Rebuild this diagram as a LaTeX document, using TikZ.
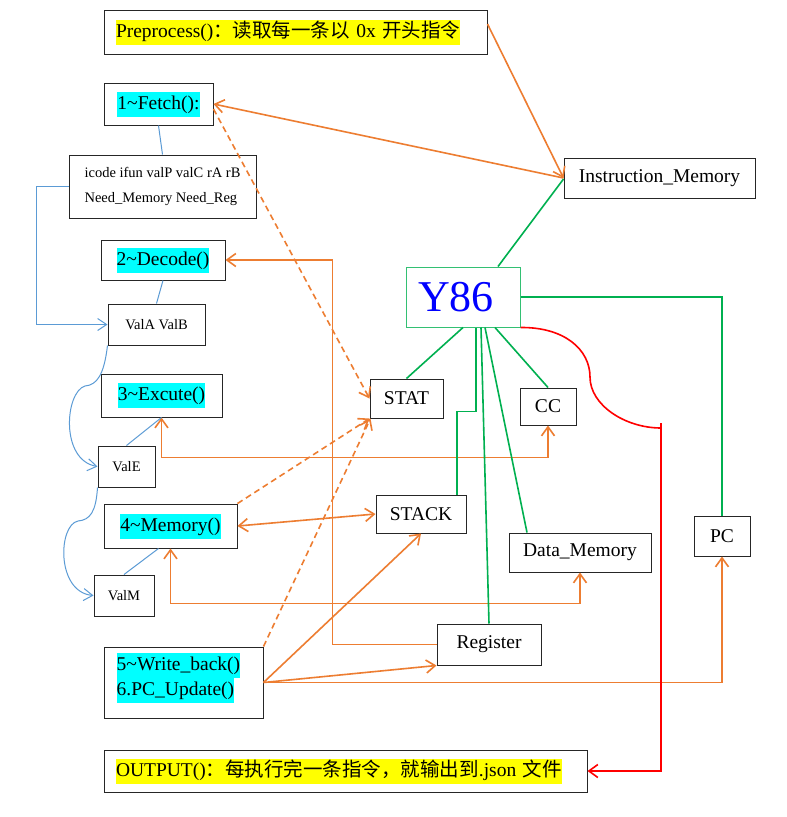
\documentclass[tikz,border=0pt]{standalone}
\usepackage{fontspec}
\setmainfont{Liberation Serif}
\newfontfamily\cjk{Noto Sans CJK SC}
\usetikzlibrary{arrows.meta,calc}
\definecolor{orng}{HTML}{ED7D31}
\definecolor{blu}{HTML}{5B9BD5}
\definecolor{grn}{HTML}{00B050}
\definecolor{hlcyan}{HTML}{00FFFF}
\definecolor{hlyel}{HTML}{FFFF00}
\newcommand\lab{\fontsize{19.5}{25}\selectfont}
\newcommand\smlab{\fontsize{14.5}{25}\selectfont}
\newcommand\hlt[2]{{\setlength{\fboxsep}{0pt}\colorbox{#1}{\strut #2}}}
\begin{document}
\begin{tikzpicture}[x=1pt,y=-1pt,
  box/.style={draw=black!85, line width=1pt, inner sep=0pt, font=\lab, text=black},
  oline/.style={draw=orng, line width=1.6pt},
  oarr/.style={oline, -{Straight Barb[length=9pt,width=13pt]}},
  odbl/.style={oline, {Straight Barb[length=9pt,width=13pt]}-{Straight Barb[length=9pt,width=13pt]}},
  odash/.style={oarr, dash pattern=on 6pt off 4pt},
  bline/.style={draw=blu, line width=1pt},
  barr/.style={bline, -{Straight Barb[length=9pt,width=12pt]}},
  gline/.style={draw=grn, line width=1.6pt},
  rline/.style={draw=red, line width=1.6pt}]
\fill[white] (0,0) rectangle (787,817);
\useasboundingbox (0,0) rectangle (787,817);

% boxes
\node[box, minimum width=383pt, minimum height=44pt, align=left, text width=359pt, inner xsep=12pt] (pre) at (295.5,32)
  {\hlt{hlyel}{Preprocess(){\cjk ：读取每一条以} 0x {\cjk 开头指令}}};
\node[box, minimum width=109pt, minimum height=42pt] (fetch) at (158.5,104) {\hlt{hlcyan}{1\textasciitilde Fetch():}};
\node[box, minimum width=187pt, minimum height=63pt, align=left, font=\smlab] (icode) at (162.5,186.5)
  {icode ifun valP valC rA rB\\Need\_Memory Need\_Reg};
\node[box, minimum width=124pt, minimum height=40pt] (decode) at (163,260) {\hlt{hlcyan}{2\textasciitilde Decode()}};
\node[box, minimum width=97pt, minimum height=41pt, font=\smlab] (vab) at (156.5,324.5) {ValA ValB};
\node[box, minimum width=121pt, minimum height=43pt] (exe) at (161.5,395.5) {\hlt{hlcyan}{3\textasciitilde Excute()}};
\node[box, minimum width=57pt, minimum height=41pt, font=\smlab] (vale) at (126.5,466.5) {ValE};
\node[box, minimum width=133pt, minimum height=44pt] (mem) at (170.5,526) {\hlt{hlcyan}{4\textasciitilde Memory()}};
\node[box, minimum width=60pt, minimum height=41pt, font=\smlab] (valm) at (124,595.5) {ValM};
\node[box, minimum width=159pt, minimum height=71pt] (wb) at (183.5,682.5) {};
\node[anchor=north west, inner sep=0pt, align=left, font=\lab] (wbtext) at ([xshift=13pt,yshift=-6pt]wb.north west)
  {\hlt{hlcyan}{5\textasciitilde Write\_back()}\\\hlt{hlcyan}{6.PC\_Update()}};
\node[box, minimum width=483pt, minimum height=42pt, align=left, text width=459pt, inner xsep=12pt] (out) at (345.5,771)
  {\hlt{hlyel}{OUTPUT(){\cjk ：每执行完一条指令，就输出到}.json {\cjk 文件}}};

\node[box, minimum width=191pt, minimum height=40pt] (im) at (659.5,178) {Instruction\_Memory};
\node[box, draw=grn!80, line width=1pt, minimum width=114pt, minimum height=60pt, font=\fontsize{44}{50}\selectfont, text=blue] (y86) at (463,297) {Y86\hspace*{14pt}};
\node[box, minimum width=73pt, minimum height=39pt] (stat) at (406.5,398.5) {STAT};
\node[box, minimum width=56pt, minimum height=37pt] (cc) at (548,406.5) {CC};
\node[box, minimum width=90pt, minimum height=38pt] (stack) at (421,514) {STACK};
\node[box, minimum width=142pt, minimum height=39pt] (dm) at (580,552.5) {Data\_Memory};
\node[box, minimum width=56pt, minimum height=40pt] (pc) at (722,536) {PC};
\node[box, minimum width=104pt, minimum height=41pt] (reg) at (489,644.5) {Register};

% orange connectors
\draw[oarr] ([yshift=8pt]pre.east) -- (im.west);
\draw[oarr] (im.west) -- (fetch.east);
\draw[odash] ([yshift=-5pt]fetch.east) -- (stat.west);
\draw[oarr] (reg.west) -| ([xshift=107pt]decode.east) -- (decode.east);
\draw[odbl] (exe.south) -- ++(0,40) -| (cc.south);
\draw[odbl] (mem.east) -- (stack.west);
\draw[odash] (mem.north east) -- (stat.south west);
\draw[odbl] (mem.south) -- ++(0,55) -| (dm.south);
\draw[odash] (wb.north east) -- ([xshift=1pt]stat.south west);
\draw[oarr] (wb.east) -- (stack.south);
\draw[oarr] (wb.east) -- (reg.south west);
\draw[oarr] (wb.east) -| (pc.south);

% blue connectors
\draw[bline] (fetch.south) -- (icode.north);
\draw[barr] (icode.west) -- ++(-32,0) |- (vab.west);
\draw[bline] (decode.south) -- (vab.north);
\draw[bline] (vale.north) -- (exe.south);
\draw[bline] (valm.north) -- ([xshift=-12pt]mem.south);
\draw[barr] (vab.south west) .. controls (104,375) and (97,385) .. (85,386) .. controls (65,392) and (60,460) .. (vale.west);
\draw[barr] (vale.south west) .. controls (96,512) and (90,520) .. (78,521) .. controls (58,525) and (56,592) .. (valm.west);

% green connectors
\draw[gline] ([xshift=35pt]y86.north) -- ([yshift=-1pt]im.west);
\draw[gline] (y86.east) -| (pc.north);
\draw[gline] (y86.south) -- (stat.north);
\draw[gline] ([xshift=13pt]y86.south) -- ++(0,84) -| ([xshift=36pt]stack.north);
\draw[gline] ([xshift=18pt]y86.south) -- (reg.north);
\draw[gline] ([xshift=22pt]y86.south) -- ([xshift=-53pt]dm.north);
\draw[gline] ([xshift=32pt]y86.south) -- (cc.north);

% red connector
\draw[rline] (y86.south east) .. controls (565,327) and (590,350) .. (590,377) .. controls (590,405) and (625,428) .. (661,428);
\coordinate (rtick) at (661,423);
\draw[rline, -{Straight Barb[length=9pt,width=13pt]}] (rtick) |- (out.east);
\end{tikzpicture}
\end{document}
